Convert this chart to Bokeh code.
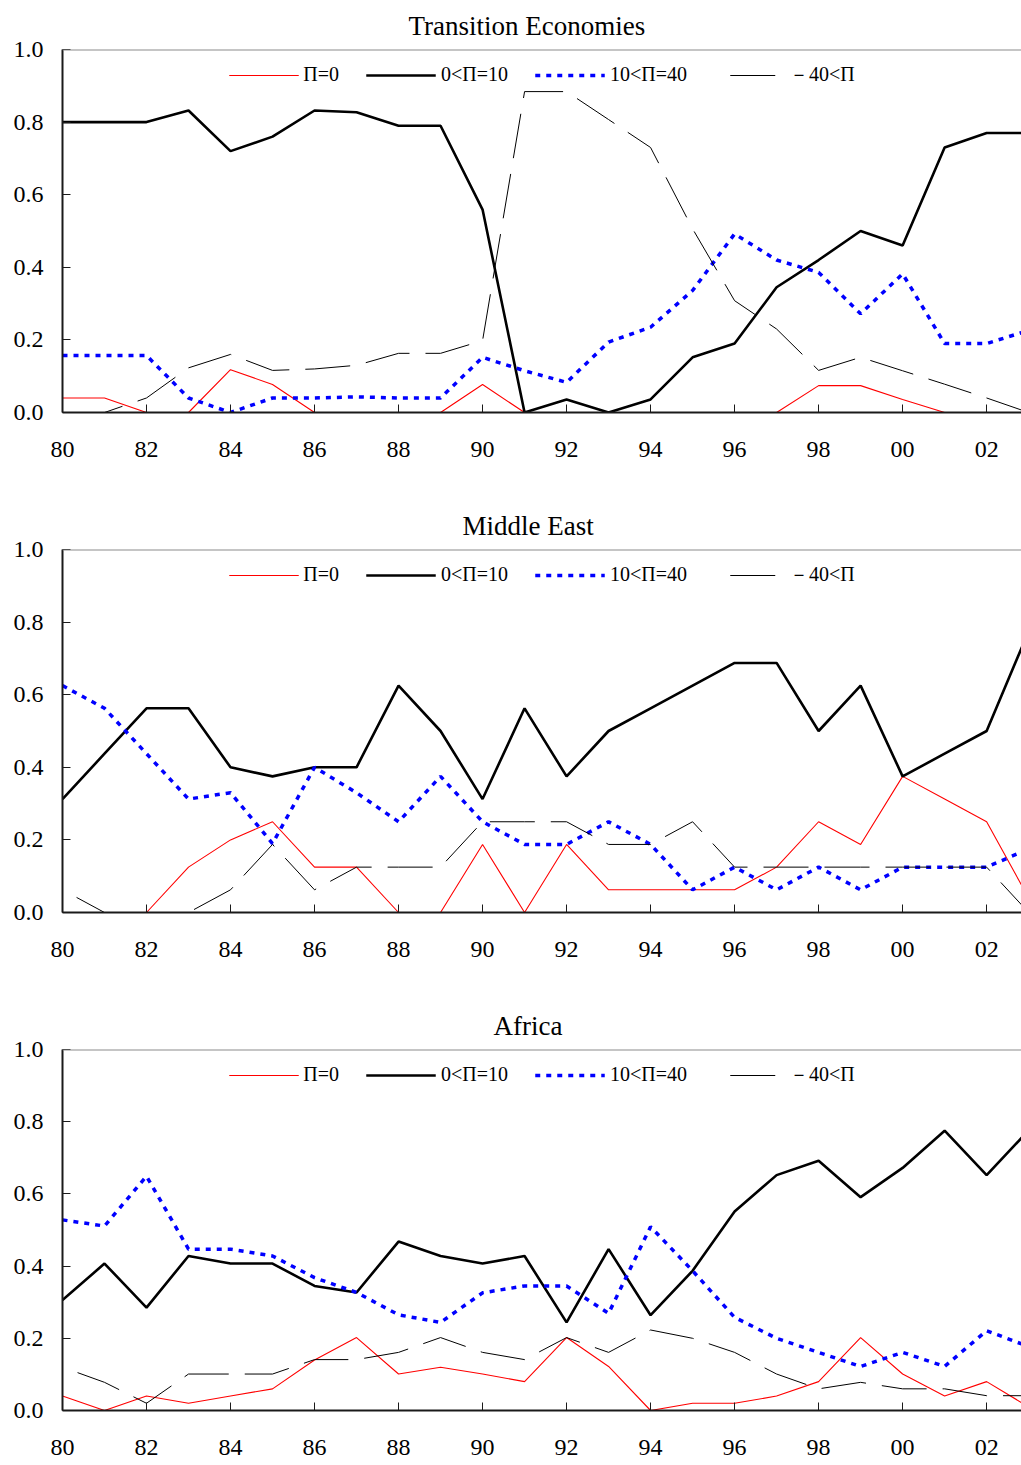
from bokeh.plotting import figure
from bokeh.layouts import column
from bokeh.models import Range1d, FixedTicker, Legend, LegendItem, Span, Title
from bokeh.embed import file_html
from bokeh.resources import INLINE

years = list(range(1980, 2004))
x_tick_years = list(range(1980, 2003, 2))
x_tick_labels = ["80", "82", "84", "86", "88", "90", "92", "94", "96", "98", "00", "02"]
y_ticks = [0.0, 0.2, 0.4, 0.6, 0.8, 1.0]
y_tick_labels = ["0.0", "0.2", "0.4", "0.6", "0.8", "1.0"]

series_names = ["Π=0", "0<Π=10", "10<Π=40", "－40<Π"]

# Transition Economies
te_zero = [0.04, 0.04, 0, 0, 0.118, 0.077, 0, 0, 0, 0, 0.077, 0, 0, 0, 0, 0, 0, 0, 0.074, 0.074, 0.036, 0, 0, 0]
te_low = [0.80, 0.80, 0.80, 0.832, 0.72, 0.76, 0.832, 0.827, 0.79, 0.79, 0.559, 0, 0.036, 0, 0.036, 0.152, 0.19, 0.345, 0.42, 0.50, 0.46, 0.73, 0.77, 0.77]
te_mid = [0.157, 0.157, 0.157, 0.04, 0, 0.04, 0.04, 0.043, 0.04, 0.04, 0.152, 0.115, 0.083, 0.194, 0.235, 0.336, 0.492, 0.42, 0.386, 0.272, 0.382, 0.19, 0.19, 0.226]
te_high = [0, 0, 0.04, 0.123, 0.16, 0.116, 0.12, 0.13, 0.163, 0.163, 0.198, 0.884, 0.884, 0.807, 0.73, 0.506, 0.308, 0.23, 0.116, 0.152, 0.115, 0.078, 0.04, 0]

# Middle East
me_zero = [0, 0, 0, 0.125, 0.2, 0.25, 0.125, 0.125, 0, 0, 0.1875, 0, 0.1875, 0.0625, 0.0625, 0.0625, 0.0625, 0.125, 0.25, 0.1875, 0.375, 0.3125, 0.25, 0.04]
me_low = [0.3125, 0.4375, 0.5625, 0.5625, 0.4, 0.375, 0.4, 0.4, 0.625, 0.5, 0.3125, 0.5625, 0.375, 0.5, 0.5625, 0.625, 0.6875, 0.6875, 0.5, 0.625, 0.375, 0.4375, 0.5, 0.775]
me_mid = [0.625, 0.5625, 0.4375, 0.3125, 0.33, 0.19, 0.4, 0.33, 0.25, 0.375, 0.25, 0.1875, 0.1875, 0.25, 0.1875, 0.0625, 0.125, 0.0625, 0.125, 0.0625, 0.125, 0.125, 0.125, 0.175]
me_high = [0.0625, 0, 0, 0, 0.0625, 0.1875, 0.0625, 0.125, 0.125, 0.125, 0.25, 0.25, 0.25, 0.1875, 0.1875, 0.25, 0.125, 0.125, 0.125, 0.125, 0.125, 0.125, 0.125, 0]

# Africa
af_zero = [0.04, 0, 0.04, 0.02, 0.04, 0.06, 0.14, 0.202, 0.101, 0.12, 0.101, 0.08, 0.202, 0.122, 0, 0.02, 0.02, 0.04, 0.08, 0.202, 0.101, 0.04, 0.08, 0.01]
af_low = [0.306, 0.407, 0.285, 0.428, 0.407, 0.407, 0.345, 0.327, 0.468, 0.428, 0.407, 0.428, 0.244, 0.447, 0.264, 0.387, 0.551, 0.652, 0.692, 0.591, 0.672, 0.775, 0.652, 0.776]
af_mid = [0.528, 0.511, 0.649, 0.447, 0.447, 0.428, 0.368, 0.327, 0.265, 0.244, 0.326, 0.345, 0.345, 0.269, 0.509, 0.387, 0.258, 0.2, 0.161, 0.122, 0.161, 0.122, 0.221, 0.177]
af_high = [0.12, 0.078, 0.02, 0.101, 0.101, 0.101, 0.141, 0.141, 0.161, 0.202, 0.161, 0.141, 0.202, 0.161, 0.223, 0.2, 0.161, 0.101, 0.06, 0.078, 0.06, 0.06, 0.041, 0.041]

FONT = "Liberation Serif"


def panel(title, title_offset, zero, low, mid, high, height, border_top, border_bottom):
    p = figure(width=1021, height=height,
               x_range=Range1d(1980, 2002.83), y_range=Range1d(0, 1.0),
               output_backend="svg", toolbar_location=None,
               min_border_left=62, min_border_right=0,
               min_border_top=border_top, min_border_bottom=border_bottom,
               background_fill_color="white", border_fill_color="white")
    p.outline_line_color = None
    p.grid.visible = False
    p.title = Title(text=title, align="left", offset=title_offset,
                    vertical_align="bottom", standoff=17,
                    text_font=FONT, text_font_size="27px", text_line_height=1.0,
                    text_font_style="normal", text_color="black")

    p.xaxis.ticker = FixedTicker(ticks=x_tick_years)
    p.xaxis.major_label_overrides = dict(zip(x_tick_years, x_tick_labels))
    p.yaxis.ticker = FixedTicker(ticks=y_ticks)
    p.yaxis.major_label_overrides = dict(zip(y_ticks, y_tick_labels))
    for ax in (p.xaxis, p.yaxis):
        ax.major_label_text_font = FONT
        ax.major_label_text_font_size = "24px"
        ax.major_label_text_color = "black"
        ax.axis_line_width = 2
        ax.axis_line_color = "#1a1a1a"
        ax.major_tick_in = 8
        ax.major_tick_out = 0
        ax.major_tick_line_width = 1
        ax.major_tick_line_color = "#1a1a1a"
        ax.minor_tick_line_color = None
    p.xaxis.major_label_standoff = 29
    p.yaxis.major_label_standoff = 19

    r0 = p.line(years, zero, line_color="red", line_width=1.1)
    r1 = p.line(years, low, line_color="black", line_width=2.6)
    r2 = p.line(years, mid, line_color="blue", line_width=3.5, line_dash="5 6")
    r3 = p.line(years, high, line_color="black", line_width=1, line_dash="45 16",
                line_dash_offset=45)

    # grey top border of the frame
    p.add_layout(Span(location=1.0, dimension="width", line_color="#8c8c8c", line_width=2))
    # off-frame red stroke drawn just before the legend (keeps the first key's stroke red)
    p.add_layout(Span(location=-2.0, dimension="width", line_color="red", line_width=1.1))

    legend = Legend(items=[LegendItem(label=series_names[0], renderers=[r0]),
                           LegendItem(label=series_names[1], renderers=[r1]),
                           LegendItem(label=series_names[2], renderers=[r2]),
                           LegendItem(label=series_names[3], renderers=[r3])],
                    orientation="horizontal", location="top_center",
                    glyph_width=70, glyph_height=20, label_standoff=5, spacing=27,
                    padding=0, margin=12,
                    label_text_font=FONT, label_text_font_size="20px",
                    label_text_color="black",
                    border_line_color=None, background_fill_alpha=0)
    p.add_layout(legend)
    return p


p1 = panel("Transition Economies", 346, te_zero, te_low, te_mid, te_high, 500, 49, 88)
p2 = panel("Middle East", 400, me_zero, me_low, me_mid, me_high, 500, 48, 88)
p3 = panel("Africa", 431, af_zero, af_low, af_mid, af_high, 465, 48, 55)

layout = column(p1, p2, p3, spacing=0)

open("out.html", "w").write(file_html(layout, INLINE))
